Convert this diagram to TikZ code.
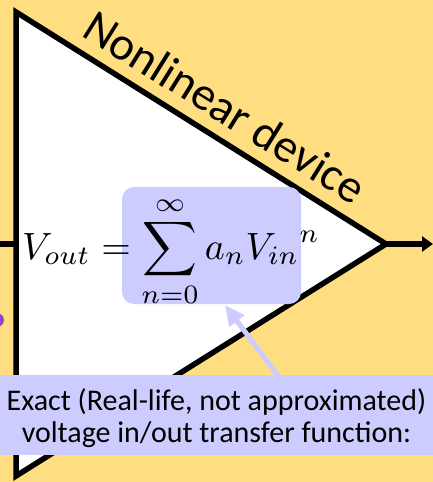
\documentclass[tikz,border=0pt]{standalone}
\usepackage{graphicx}
\usepackage[no-math]{fontspec}
\setmainfont{Carlito}
\usetikzlibrary{arrows.meta}
\definecolor{padyellow}{HTML}{FFDE81}
\definecolor{notelav}{HTML}{CCCCFF}
\definecolor{dotpurple}{HTML}{9446C8}

\begin{document}
\begin{tikzpicture}[x=1pt, y=-1pt,
    lav/.style={fill=notelav, draw=none},
    wire/.style={line width=5.5pt}]
  \clip (0,0) rectangle (433,482);
  \fill[padyellow] (0,0) rectangle (433,482);
  \fill[dotpurple] (-3,320) circle (7);

  % amplifier body
  \coordinate (top) at (16,12);
  \coordinate (tip) at (386,244);
  \coordinate (bot) at (16,476);
  \coordinate (inL) at (0,244);
  \coordinate (outR) at (433,244);
  \draw[wire] (inL) -- (top |- inL);
  \draw[wire, -{Triangle[length=11pt,width=15pt]}] (tip) -- (outR);
  \draw[wire, fill=white] (top) -- (tip) -- (bot) -- cycle;
  \node[font=\fontsize{47}{50}\selectfont, rotate=-32, anchor=base west, inner sep=0pt] (devname) at (80,35) {Nonlinear device};

  % highlighted sum
  \node[lav, rounded corners=12pt, minimum width=179pt, minimum height=117pt] (sumbox) at (211.5,245.5) {};
  \node[anchor=base west, inner sep=0pt] (law) at (22,259) {\scalebox{3.8}{$\displaystyle V_{out} = \sum_{n=0}^{\infty} a_n {V_{in}}^{n}$}};

  % callout
  \node[lav, minimum width=433pt, minimum height=80pt, inner sep=0pt] (callout) at (216.5,415) {};
  \node[align=center, font=\fontsize{30}{32}\selectfont] (calltext) at (216.5,418) {Exact (Real-life, not approximated)\\voltage in/out transfer function:};
  \coordinate (ptrfoot) at (279,377);
  \coordinate (ptrhead) at (225,305);
  \draw[draw=notelav, line width=5pt, -{Triangle[length=20pt,width=18pt]}] (ptrfoot) -- (ptrhead);
\end{tikzpicture}
\end{document}
